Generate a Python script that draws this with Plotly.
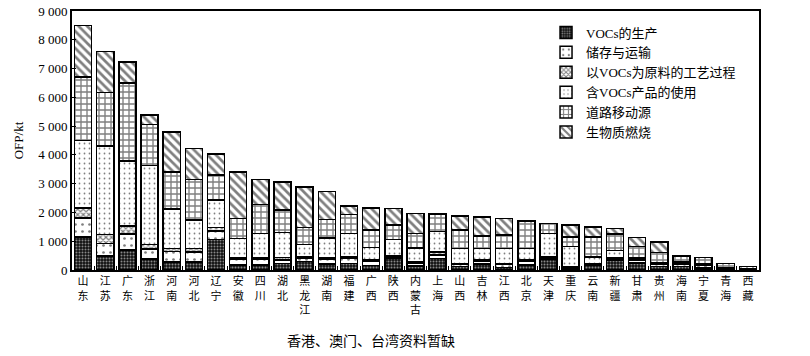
import plotly.graph_objects as go

provinces = ["山东","江苏","广东","浙江","河南","河北","辽宁","安徽","四川","湖北","黑龙江","湖南","福建","广西","陕西","内蒙古","上海","山西","吉林","江西","北京","天津","重庆","云南","新疆","甘肃","贵州","海南","宁夏","青海","西藏"]

voc_production = [1150, 480, 700, 380, 270, 280, 1060, 170, 180, 220, 300, 200, 220, 150, 400, 140, 400, 120, 200, 80, 175, 380, 60, 150, 330, 250, 120, 125, 70, 30, 15]
storage_transport = [650, 440, 550, 350, 380, 340, 290, 210, 200, 130, 100, 180, 180, 150, 60, 110, 120, 80, 100, 110, 125, 20, 40, 50, 50, 80, 80, 80, 100, 50, 20]
process_feedstock = [350, 320, 280, 160, 100, 130, 120, 50, 50, 80, 60, 60, 60, 40, 20, 30, 110, 30, 50, 40, 50, 60, 15, 30, 60, 20, 20, 20, 10, 0, 0]
product_use = [2350, 3070, 2250, 2750, 1370, 980, 960, 670, 840, 870, 430, 680, 810, 450, 580, 490, 700, 520, 400, 520, 400, 810, 695, 230, 240, 60, 40, 60, 20, 0, 0]
road_mobile = [2200, 1860, 2720, 1420, 1290, 1420, 870, 690, 1010, 780, 580, 640, 660, 600, 510, 500, 600, 640, 430, 465, 950, 350, 345, 695, 570, 400, 350, 200, 230, 150, 80]
biomass_burning = [1800, 1430, 730, 320, 1390, 1070, 730, 1620, 860, 985, 1420, 960, 290, 770, 560, 700, 10, 490, 660, 575, 0, 0, 405, 345, 200, 320, 370, 0, 0, 0, 0]

series_names = ["VOCs的生产", "储存与运输", "以VOCs为原料的工艺过程", "含VOCs产品的使用", "道路移动源", "生物质燃烧"]
y_ticks = [0, 1000, 2000, 3000, 4000, 5000, 6000, 7000, 8000, 9000]

tick_text = ["<br>".join(list(p)) for p in provinces]

patterns = [
    dict(shape=".", fgcolor="white", bgcolor="#111", size=3, solidity=0.35),
    dict(shape=".", fgcolor="black", bgcolor="white", size=7, solidity=0.12),
    dict(shape="x", fgcolor="black", bgcolor="white", size=4, solidity=0.5),
    dict(shape=".", fgcolor="black", bgcolor="white", size=5, solidity=0.1),
    dict(shape="+", fgcolor="black", bgcolor="white", size=6, solidity=0.4),
    dict(shape="\\", fgcolor="black", bgcolor="white", size=6, solidity=0.45),
]

data = [voc_production, storage_transport, process_feedstock, product_use, road_mobile, biomass_burning]

fig = go.Figure()
for name, vals, pat in zip(series_names, data, patterns):
    fig.add_trace(go.Bar(
        x=provinces, y=vals, name=name,
        marker=dict(color="white", pattern=pat, line=dict(color="black", width=1.5)),
    ))

serif = "Liberation Serif, Times New Roman, Noto Sans CJK SC, serif"

fig.update_layout(
    barmode="stack",
    bargap=0.23,
    width=810, height=356,
    margin=dict(l=72, r=51, t=11, b=86, autoexpand=False),
    paper_bgcolor="white", plot_bgcolor="white",
    font=dict(family=serif, size=12, color="black"),
    separators=". ",
    legend=dict(
        x=0.69, y=0.975, xanchor="left", yanchor="top",
        bgcolor="rgba(0,0,0,0)", font=dict(size=13, family=serif),
        tracegroupgap=0, itemwidth=30, traceorder="normal",
    ),
    showlegend=True,
)

fig.update_xaxes(
    tickmode="array", tickvals=provinces, ticktext=tick_text,
    tickangle=0, ticks="inside", ticklen=4, tickson="boundaries",
    tickcolor="black", showline=True, linecolor="black", linewidth=2,
    mirror=True, showgrid=False, tickfont=dict(size=11, family=serif),
    automargin=False,
)
fig.update_yaxes(
    range=[0, 9000], tickvals=y_ticks, tickformat=",d",
    ticks="inside", ticklen=4, tickcolor="black",
    showline=True, linecolor="black", linewidth=2, mirror=True,
    showgrid=False, zeroline=False, automargin=False,
    title=dict(text="OFP/kt", font=dict(size=13, family=serif), standoff=12),
    tickfont=dict(size=13, family=serif),
)

fig.add_annotation(
    text="香港、澳门、台湾资料暂缺", xref="paper", yref="paper",
    x=0.435, y=-0.235, xanchor="center", yanchor="top", showarrow=False,
    font=dict(size=14, family=serif),
)

fig.write_html("out.html", config={"displayModeBar": False},
               post_script="document.body.style.margin='0';")
